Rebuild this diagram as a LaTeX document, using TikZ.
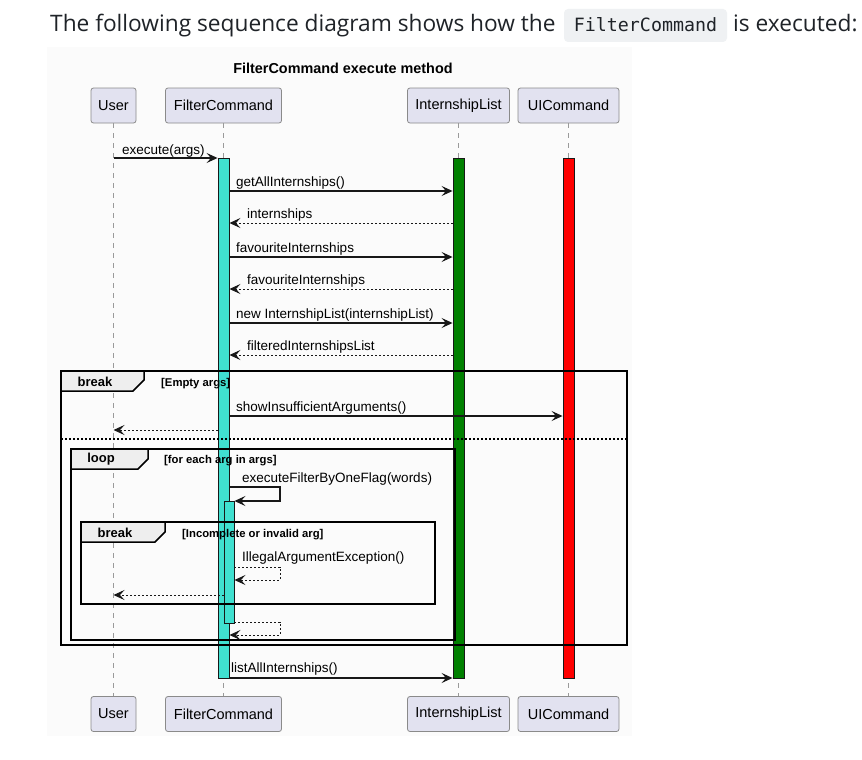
\documentclass[tikz,border=0pt]{standalone}
\usepackage{fontspec}
\setmainfont{Liberation Sans}
\newfontfamily\hdrfont{Open Sans}
\newfontfamily\codefont{DejaVu Sans Mono}
\usetikzlibrary{arrows.meta}
\definecolor{partfill}{HTML}{E2E2F0}
\definecolor{partborder}{HTML}{8A8A8A}
\definecolor{lifecol}{HTML}{9A9A9A}
\definecolor{actborder}{HTML}{181818}
\definecolor{msgcol}{HTML}{181818}
\definecolor{actcyan}{HTML}{40E0D0}
\definecolor{actgreen}{HTML}{008000}
\definecolor{actred}{HTML}{FF0000}
\definecolor{tabfill}{HTML}{EEEEEE}
\definecolor{diagbg}{HTML}{FBFBFB}
\definecolor{codebg}{HTML}{EFF1F3}
\definecolor{hdrtext}{HTML}{1F2328}
\begin{document}
\begin{tikzpicture}[x=1pt,y=-1pt,
  part/.style={draw=partborder, fill=partfill, rounded corners=2.5pt, line width=0.8pt, minimum height=35pt, inner sep=0pt, font=\fontsize{14.5}{16}\selectfont},
  life/.style={draw=lifecol, line width=0.8pt, dash pattern=on 5pt off 5pt},
  act/.style={draw=actborder, line width=0.9pt, inner sep=0pt, minimum width=11pt},
  msg/.style={draw=msgcol, line width=1.1pt, -{Stealth[length=11pt,width=10pt,inset=4.5pt]}},
  ret/.style={msg, line width=0.9pt, dash pattern=on 2pt off 2pt},
  lbl/.style={font=\fontsize{13.5}{16}\selectfont, inner sep=0pt, anchor=base west},
  frame/.style={draw=black, line width=1.5pt},
  tab/.style={draw=black, fill=tabfill, line width=1.5pt},
  tabtxt/.style={font=\bfseries\fontsize{13}{15}\selectfont, inner sep=0pt},
  guard/.style={font=\bfseries\fontsize{11.3}{13}\selectfont, inner sep=0pt, anchor=base west},
  hdr/.style={font=\hdrfont\fontsize{22.7}{26}\selectfont, text=hdrtext, inner sep=0pt, anchor=base west},
]
\useasboundingbox (0,0) rectangle (862,760);
\fill[white] (0,0) rectangle (862,760);
% header
\node[hdr] (h1) at (50,32) {The following sequence diagram shows how the};
\fill[codebg, rounded corners=4pt] (564,9) rectangle (727,42);
\node[font=\codefont\fontsize{18.3}{21}\selectfont, text=hdrtext, inner sep=0pt, anchor=base] (code) at (645.5,32) {FilterCommand};
\node[hdr] (h2) at (733,32) {is executed:};
% diagram background
\fill[diagbg] (47,47) rectangle (632,736);
\node[font=\bfseries\fontsize{14.4}{16}\selectfont, inner sep=0pt] (title) at (343,68) {FilterCommand execute method};
% participants
\node[part, minimum width=45pt] (userT) at (113.5,105.5) {User};
\node[part, minimum width=116pt] (fcT) at (223.5,105.5) {FilterCommand};
\node[part, minimum width=102pt] (ilT) at (458.5,105.5) {InternshipList};
\node[part, minimum width=101pt] (uiT) at (568.5,105.5) {UICommand};
\node[part, minimum width=45pt] (userB) at (113.5,714) {User};
\node[part, minimum width=116pt] (fcB) at (223.5,714) {FilterCommand};
\node[part, minimum width=102pt] (ilB) at (458.5,714) {InternshipList};
\node[part, minimum width=101pt] (uiB) at (568.5,714) {UICommand};
% lifelines
\draw[life] (userT) -- (userB);
\draw[life] (fcT) -- (fcB);
\draw[life] (ilT) -- (ilB);
\draw[life] (uiT) -- (uiB);
% activations
\node[act, fill=actcyan, minimum height=520pt] (fcAct) at (223.5,418) {};
\node[act, fill=actgreen, minimum height=520pt] (ilAct) at (458.5,418) {};
\node[act, fill=actred, minimum height=520pt] (uiAct) at (568.5,418) {};
\node[act, fill=actcyan, minimum width=10pt, minimum height=122pt] (fcAct2) at (229,562) {};
% fragments
\draw[frame] (61,371) rectangle (627,645);
\draw[tab] (61,371) -- (144,371) -- (144,380) -- (133,391) -- (61,391) -- cycle;
\node[tabtxt] (brk1) at (95,381.5) {break};
\node[guard] (g1) at (161,386) {[Empty args]};
\draw[draw=black, line width=1.1pt, dash pattern=on 2pt off 2pt] (61,439) -- (627,439);
\draw[frame] (71,449) rectangle (455,640);
\draw[tab] (71,449) -- (148,449) -- (148,459) -- (138,469) -- (71,469) -- cycle;
\node[tabtxt] (loop1) at (101,459.5) {loop};
\node[guard] (g2) at (164,463) {[for each arg in args]};
\draw[frame] (81,522) rectangle (435,604);
\draw[tab] (81,522) -- (165,522) -- (165,532) -- (155,542) -- (81,542) -- cycle;
\node[tabtxt] (brk2) at (115,532.5) {break};
\node[guard] (g3) at (182,537) {[Incomplete or invalid arg]};
% messages
\draw[msg] (userT |- 0,158) -- (fcAct.west |- 0,158);
\node[lbl] (l1) at (122,154) {execute(args)};
\draw[msg] (fcAct.east |- 0,191) -- (ilAct.west |- 0,191);
\node[lbl] (l2) at (236,186.5) {getAllInternships()};
\draw[ret] (ilAct.west |- 0,223) -- (fcAct.east |- 0,223);
\node[lbl] (l3) at (247,218.5) {internships};
\draw[msg] (fcAct.east |- 0,257) -- (ilAct.west |- 0,257);
\node[lbl] (l4) at (236,252.5) {favouriteInternships};
\draw[ret] (ilAct.west |- 0,289) -- (fcAct.east |- 0,289);
\node[lbl] (l5) at (247,284.5) {favouriteInternships};
\draw[msg] (fcAct.east |- 0,323) -- (ilAct.west |- 0,323);
\node[lbl] (l6) at (236,318.5) {new InternshipList(internshipList)};
\draw[ret] (ilAct.west |- 0,355) -- (fcAct.east |- 0,355);
\node[lbl] (l7) at (247,350.5) {filteredInternshipsList};
\draw[msg] (fcAct.east |- 0,416) -- (uiAct.west |- 0,416);
\node[lbl] (l8) at (236,411.5) {showInsufficientArguments()};
\draw[ret] (fcAct.west |- 0,430) -- (userT |- 0,430);
\coordinate (s1) at (280,487);
\coordinate (s2) at (280,501);
\draw[msg] (fcAct.east |- s1) -- (s1) -- (s2) -- (fcAct2.east |- s2);
\node[lbl] (l9) at (242,482.5) {executeFilterByOneFlag(words)};
\coordinate (s3) at (280,567);
\coordinate (s4) at (280,580);
\draw[ret] (fcAct2.east |- s3) -- (s3) -- (s4) -- (fcAct2.east |- s4);
\node[lbl] (l10) at (242,561.5) {IllegalArgumentException()};
\draw[ret] (fcAct2.west |- 0,595) -- (userT |- 0,595);
\coordinate (s5) at (280,622);
\coordinate (s6) at (280,635);
\draw[ret] (fcAct2.east |- s5) -- (s5) -- (s6) -- (fcAct.east |- s6);
\draw[msg] (fcAct.east |- 0,678) -- (ilAct.west |- 0,678);
\node[lbl] (l11) at (231,672.5) {listAllInternships()};
\end{tikzpicture}
\end{document}
